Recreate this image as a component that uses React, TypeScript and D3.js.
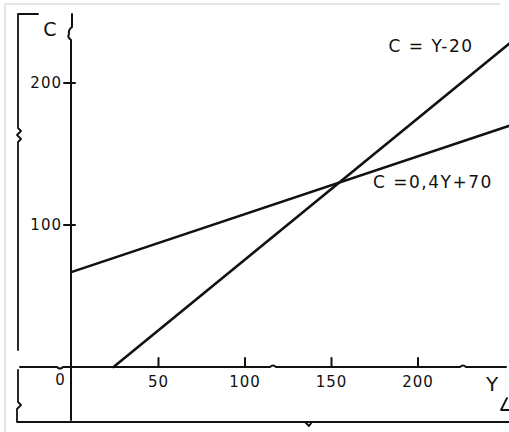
import React from 'react';
import * as d3 from 'd3';

// tick values
const xTicks = [50, 100, 150, 200];
const yTicks = [100, 200];

// the two lines, as [Y, C] end points
const consumption = [[0, 67], [253, 170]];
const fortyFive = [[24, 0], [253, 228]];

const labels = [
  { text: 'C = Y-20', Y: 183, C: 222 },
  { text: 'C =0,4Y+70', Y: 174, C: 126 },
];

const W = 509;
const H = 432;

const App: React.FC = () => {
  const x = d3.scaleLinear().domain([0, 200]).range([72, 418]);
  const y = d3.scaleLinear().domain([0, 200]).range([367, 83]);

  const line = d3.line<number[]>()
    .x(d => x(d[0]))
    .y(d => y(d[1]));

  const x0 = x(0);
  const y0 = y(0);
  const ink = '#111';
  const font = "'DejaVu Sans', sans-serif";

  return (
    <svg width={W} height={H} style={{ position: 'absolute', left: 0, top: 0, background: '#fff' }}>
      {/* faint page border */}
      <path d={`M5,${H} V4 H500`} fill="none" stroke="#ddd" strokeWidth={1.5} />

      {/* outer bracket */}
      <g fill="none" stroke={ink} strokeWidth={1.8} strokeLinecap="round" strokeLinejoin="round">
        <path d={`M38,14 H18 V128 l3,3 l-4,4 l4,4 l-3,3 V350`} />
        <path d={`M18,370 V402 l3,3 l-4,4 V${H - 10} H${W}`} />
        <path d={`M305,${H - 10} l4,4 l3,-4`} />
        <path d={`M507,398 l-6,12 h8`} />
      </g>

      {/* axes */}
      <g fill="none" stroke={ink} strokeWidth={2} strokeLinecap="round" strokeLinejoin="round">
        <path d={`M${x0},14 V27 q-4,3 -3,7 q-2,3 2,6 V${H - 12}`} />
        <path d={`M20,${y0} H57 q3,3 6,0 H270 q3,-3 6,0 H460 q3,-3 6,0 H${W - 3}`} />
        {xTicks.map(t => (
          <path key={t} d={`M${x(t)},${y0 - 9} V${y0}`} />
        ))}
        {yTicks.map(t => (
          <path key={t} d={`M${x0 - 8},${y(t)} H${x0 + 3}`} />
        ))}
      </g>

      {/* data lines */}
      <g fill="none" stroke={ink} strokeWidth={2.6} strokeLinecap="round">
        <path d={line(consumption) ?? ''} />
        <path d={line(fortyFive) ?? ''} />
      </g>

      {/* text */}
      <g fontFamily={font} fontSize={15} fill={ink}>
        {xTicks.map(t => (
          <text key={t} x={x(t)} y={y0 + 20} textAnchor="middle" letterSpacing={1}>{t}</text>
        ))}
        <text x={60} y={y0 + 18} textAnchor="middle">0</text>
        {yTicks.map(t => (
          <text key={t} x={x0 - 10} y={y(t) + 5} textAnchor="end" letterSpacing={1}>{t}</text>
        ))}
        <text x={50} y={36} fontSize={19} textAnchor="middle">C</text>
        <text x={492} y={391} fontSize={20} textAnchor="middle">Y</text>
        {labels.map(l => (
          <text key={l.text} x={x(l.Y)} y={y(l.C)} fontSize={17} letterSpacing={1.5}>{l.text}</text>
        ))}
      </g>
    </svg>
  );
};

export default App;
